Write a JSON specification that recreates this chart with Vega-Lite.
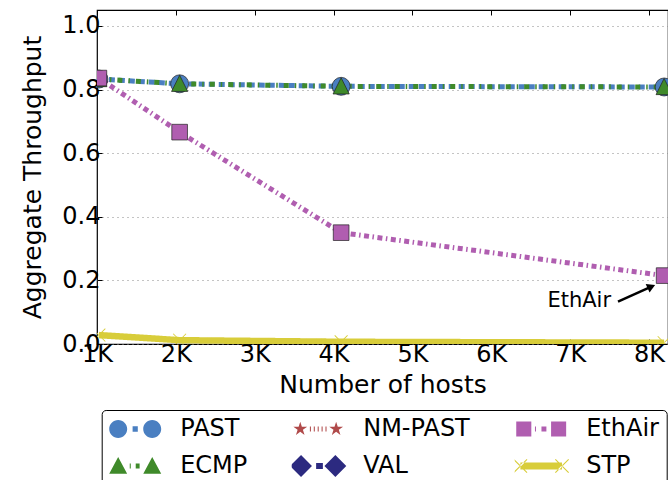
{
  "$schema": "https://vega.github.io/schema/vega-lite/v6.json",
  "width": 571,
  "height": 334,
  "autosize": {"type": "none"},
  "padding": {"left": 97, "top": 10, "right": 0, "bottom": 136},
  "background": "white",
  "config": {
    "font": "DejaVu Sans",
    "view": {"stroke": "black", "strokeWidth": 1.2},
    "axis": {
      "labelFont": "DejaVu Sans",
      "titleFont": "DejaVu Sans",
      "labelFontSize": 24,
      "titleFontSize": 25,
      "titleFontWeight": "normal",
      "labelColor": "black",
      "titleColor": "black",
      "tickColor": "black",
      "tickSize": -5,
      "labelFlush": false,
      "domain": false,
      "grid": false
    },
    "legend": {
      "columns": 3,
      "columnPadding": 44,
      "rowPadding": 13,
      "labelFont": "DejaVu Sans",
      "labelFontSize": 24,
      "labelColor": "black",
      "labelOffset": 18.5,
      "labelLimit": 300,
      "symbolSize": 2704,
      "symbolOpacity": 1,
      "symbolStrokeColor": "#333333",
      "symbolStrokeWidth": 0.5,
      "clipHeight": 24,
      "strokeColor": "black",
      "cornerRadius": 4,
      "padding": 7,
      "fillColor": "white"
    }
  },
  "datasets": {
    "series": [
      {"series": "PAST", "hosts": 1024, "thr": 0.833},
      {"series": "PAST", "hosts": 2048, "thr": 0.818},
      {"series": "PAST", "hosts": 4096, "thr": 0.81},
      {"series": "PAST", "hosts": 8192, "thr": 0.808},
      {"series": "ECMP", "hosts": 1024, "thr": 0.833},
      {"series": "ECMP", "hosts": 2048, "thr": 0.818},
      {"series": "ECMP", "hosts": 4096, "thr": 0.81},
      {"series": "ECMP", "hosts": 8192, "thr": 0.808},
      {"series": "EthAir", "hosts": 1024, "thr": 0.836},
      {"series": "EthAir", "hosts": 2048, "thr": 0.666},
      {"series": "EthAir", "hosts": 4096, "thr": 0.35},
      {"series": "EthAir", "hosts": 8192, "thr": 0.215},
      {"series": "STP", "hosts": 1024, "thr": 0.028},
      {"series": "STP", "hosts": 2048, "thr": 0.012},
      {"series": "STP", "hosts": 4096, "thr": 0.007},
      {"series": "STP", "hosts": 8192, "thr": 0.004}
    ],
    "note": [{"hosts": 7115, "thr": 0.134, "label": "EthAir"}],
    "arrow": [{"hosts": 7607, "thr": 0.133, "hosts2": 8030, "thr2": 0.1805}]
  },
  "resolve": {"axis": {"x": "independent"}},
  "layer": [
    {
      "data": {"name": "series"},
      "mark": {"type": "line", "clip": true, "strokeCap": "butt"},
      "encoding": {
        "x": {
          "field": "hosts", "type": "quantitative",
          "scale": {"domain": [1000, 8241], "nice": false, "zero": false},
          "axis": {
            "orient": "bottom",
            "values": [1000, 2000, 3000, 4000, 5000, 6000, 7000, 8000],
            "labelExpr": "datum.value / 1000 + 'K'",
            "title": "Number of hosts",
            "labelPadding": 3,
            "titlePadding": 6
          }
        },
        "y": {
          "field": "thr", "type": "quantitative",
          "scale": {"domain": [0, 1.05], "nice": false},
          "axis": {
            "values": [0, 0.2, 0.4, 0.6, 0.8, 1.0],
            "format": ".1f",
            "grid": true,
            "gridDash": [1, 4],
            "gridColor": "#888888",
            "gridWidth": 1,
            "title": "Aggregate Throughput",
            "labelPadding": 2,
            "titlePadding": 16
          }
        },
        "stroke": {
          "field": "series", "type": "nominal",
          "scale": {
            "domain": ["PAST", "ECMP", "EthAir", "STP", "NM-PAST", "VAL"],
            "range": ["#4a7fc1", "#3f8a2a", "#b05eb0", "#d8cd3a", "#b04a4a", "#2c2a80"]
          },
          "legend": null
        },
        "strokeDash": {
          "field": "series", "type": "nominal",
          "scale": {
            "domain": ["STP", "PAST", "ECMP", "EthAir", "NM-PAST", "VAL"],
            "range": [[1, 0], [6, 4], [5, 6, 1.5, 6], [5, 3.5, 1.5, 3.5], [1.5, 2.5], [7, 4]]
          },
          "legend": null
        },
        "strokeWidth": {
          "condition": {"test": "datum.series === 'STP'", "value": 6.5},
          "value": 5
        },
        "order": {"field": "hosts", "type": "quantitative"}
      }
    },
    {
      "data": {"name": "series"},
      "mark": {"type": "point", "filled": true, "opacity": 0, "clip": true},
      "encoding": {
        "x": {"field": "hosts", "type": "quantitative", "axis": null},
        "y": {"field": "thr", "type": "quantitative", "title": "Aggregate Throughput"},
        "fill": {
          "field": "series", "type": "nominal",
          "scale": {
            "domain": ["PAST", "ECMP", "NM-PAST", "VAL", "EthAir", "STP"],
            "range": ["#4a7fc1", "#3f8a2a", "#b04a4a", "#2c2a80", "#b05eb0", "#d8cd3a"]
          },
          "legend": {"title": null, "orient": "none", "legendX": 4.7, "legendY": 400}
        },
        "shape": {
          "field": "series", "type": "nominal",
          "scale": {
            "domain": ["PAST", "ECMP", "NM-PAST", "VAL", "EthAir", "STP"],
            "range": [
              "M-1,0A0.346,0.346,0,1,0,-0.308,0A0.346,0.346,0,1,0,-1,0ZM0.308,0A0.346,0.346,0,1,0,1,0A0.346,0.346,0,1,0,0.308,0ZM-0.1,-0.11H0.1V0.11H-0.1Z",
              "M-1,0.3L-0.655,-0.35L-0.31,0.3ZM0.31,0.3L0.655,-0.35L1,0.3ZM-0.21,-0.1H-0.17V0.1H-0.21ZM0.02,-0.1H0.17V0.1H0.02Z",
              "M-0.69,-0.28L-0.627,-0.087L-0.424,-0.087L-0.588,0.033L-0.525,0.227L-0.69,0.107L-0.855,0.227L-0.792,0.033L-0.956,-0.087L-0.753,-0.087ZM0.69,-0.28L0.753,-0.087L0.956,-0.087L0.792,0.033L0.855,0.227L0.69,0.107L0.525,0.227L0.588,0.033L0.424,-0.087L0.627,-0.087ZM-0.32,-0.1H-0.28V0.1H-0.32ZM-0.17,-0.1H-0.13V0.1H-0.17ZM-0.02,-0.1H0.02V0.1H-0.02ZM0.13,-0.1H0.17V0.1H0.13ZM0.28,-0.1H0.32V0.1H0.28Z",
              "M-1.08,0L-0.66,-0.42L-0.24,0L-0.66,0.42ZM0.24,0L0.66,-0.42L1.08,0L0.66,0.42ZM-0.08,-0.12H0.18V0.12H-0.08Z",
              "M-0.96,-0.29H-0.38V0.29H-0.96ZM0.38,-0.29H0.96V0.29H0.38ZM-0.24,-0.1H-0.2V0.1H-0.24ZM0.01,-0.1H0.2V0.1H0.01Z",
              "M-0.8,-0.13H0.8V0.13H-0.8ZM-1.07,-0.24L-1.04,-0.27L-0.53,0.24L-0.56,0.27ZM-1.07,0.24L-1.04,0.27L-0.53,-0.24L-0.56,-0.27ZM0.53,-0.24L0.56,-0.27L1.07,0.24L1.04,0.27ZM0.53,0.24L0.56,0.27L1.07,-0.24L1.04,-0.27Z"
            ]
          },
          "legend": {"title": null, "orient": "none", "legendX": 4.7, "legendY": 400}
        }
      }
    },
    {
      "data": {"name": "series"},
      "transform": [{"filter": "datum.series === 'PAST'"}],
      "mark": {"type": "point", "filled": true, "shape": "circle", "size": 324, "fill": "#4a7fc1", "stroke": "#222222", "strokeWidth": 0.7, "opacity": 1, "clip": true},
      "encoding": {
        "x": {"field": "hosts", "type": "quantitative", "axis": null},
        "y": {"field": "thr", "type": "quantitative", "title": "Aggregate Throughput"}
      }
    },
    {
      "data": {"name": "series"},
      "transform": [{"filter": "datum.series === 'ECMP'"}],
      "mark": {"type": "point", "filled": true, "shape": "M0,-0.95L0.9,0.85L-0.9,0.85Z", "size": 324, "fill": "#3f8a2a", "stroke": "#222222", "strokeWidth": 0.7, "opacity": 1, "clip": true},
      "encoding": {
        "x": {"field": "hosts", "type": "quantitative", "axis": null},
        "y": {"field": "thr", "type": "quantitative", "title": "Aggregate Throughput"}
      }
    },
    {
      "data": {"name": "series"},
      "transform": [{"filter": "datum.series === 'EthAir'"}],
      "mark": {"type": "point", "filled": true, "shape": "M-0.87,-0.87H0.87V0.87H-0.87Z", "size": 324, "fill": "#b05eb0", "stroke": "#222222", "strokeWidth": 0.7, "opacity": 1, "clip": true},
      "encoding": {
        "x": {"field": "hosts", "type": "quantitative", "axis": null},
        "y": {"field": "thr", "type": "quantitative", "title": "Aggregate Throughput"}
      }
    },
    {
      "data": {"name": "series"},
      "transform": [{"filter": "datum.series === 'STP'"}],
      "mark": {"type": "point", "filled": true, "shape": "M-0.75,-0.68L-0.68,-0.75L0.75,0.68L0.68,0.75ZM-0.75,0.68L-0.68,0.75L0.75,-0.68L0.68,-0.75Z", "size": 324, "fill": "#d8cd3a", "strokeWidth": 0, "opacity": 1, "clip": true},
      "encoding": {
        "x": {"field": "hosts", "type": "quantitative", "axis": null},
        "y": {"field": "thr", "type": "quantitative", "title": "Aggregate Throughput"}
      }
    },
    {
      "data": {"name": "note"},
      "mark": {"type": "text", "fontSize": 21, "font": "DejaVu Sans", "color": "black", "align": "center", "baseline": "middle"},
      "encoding": {
        "x": {
          "field": "hosts", "type": "quantitative",
          "axis": {
            "orient": "top",
            "labels": false,
            "title": null,
            "values": [1000, 2000, 3000, 4000, 5000, 6000, 7000, 8000],
            "tickSize": -5,
            "domain": false,
            "grid": false
          }
        },
        "y": {"field": "thr", "type": "quantitative", "title": "Aggregate Throughput"},
        "text": {"field": "label"}
      }
    },
    {
      "data": {"name": "arrow"},
      "mark": {"type": "rule", "strokeWidth": 2.5, "color": "black"},
      "encoding": {
        "x": {"field": "hosts", "type": "quantitative", "axis": null},
        "y": {"field": "thr", "type": "quantitative", "title": "Aggregate Throughput"},
        "x2": {"field": "hosts2"},
        "y2": {"field": "thr2"}
      }
    },
    {
      "data": {"name": "arrow"},
      "mark": {"type": "point", "shape": "triangle-up", "filled": true, "size": 90, "angle": 65.7, "color": "black", "opacity": 1},
      "encoding": {
        "x": {"field": "hosts2", "type": "quantitative", "axis": null},
        "y": {"field": "thr2", "type": "quantitative", "title": "Aggregate Throughput"}
      }
    }
  ]
}
